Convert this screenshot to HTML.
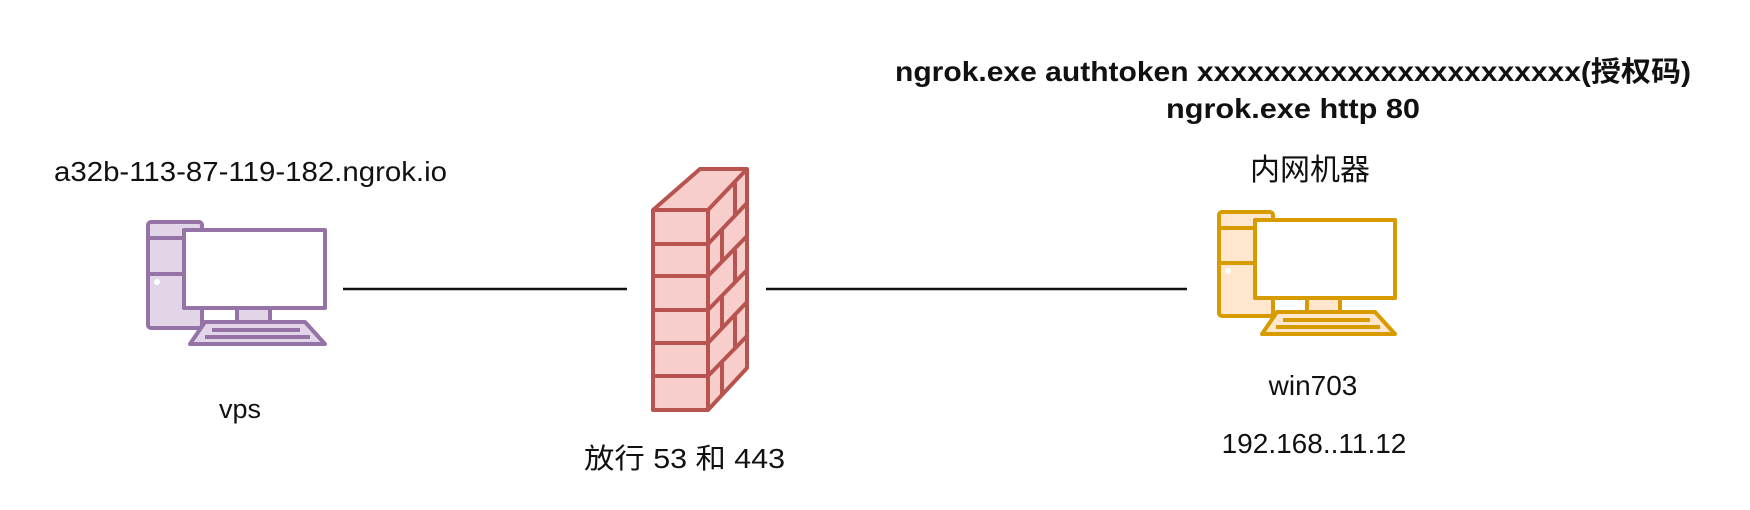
<!DOCTYPE html>
<html><head><meta charset="utf-8"><style>
html,body{margin:0;padding:0;background:#fff;width:1750px;height:510px;overflow:hidden}
svg{display:block}
text{font-family:"Liberation Sans","Noto Sans CJK SC",sans-serif;fill:#111}
</style></head><body>
<svg width="1750" height="510" viewBox="0 0 1750 510" xmlns="http://www.w3.org/2000/svg">
<rect width="1750" height="510" fill="#fff"/>
<!-- connectors -->
<line x1="343" y1="289" x2="627" y2="289" stroke="#111" stroke-width="2.4"/>
<line x1="766" y1="289" x2="1187" y2="289" stroke="#111" stroke-width="2.4"/>

<!-- left computer (purple) -->
<g stroke="#9673a6" stroke-width="4" stroke-linejoin="round" fill="#e1d5e7">
  <rect x="148" y="222" width="54" height="106" rx="3"/>
  <line x1="148" y1="238" x2="202" y2="238"/>
  <line x1="148" y1="274" x2="202" y2="274"/>
  <rect x="237" y="307" width="33" height="15"/>
  <polygon points="205,322 305,322 325,344 190,344"/>
  <line x1="212" y1="330" x2="300" y2="330"/>
  <line x1="205" y1="337" x2="310" y2="337"/>
  <rect x="184" y="230" width="141" height="78" fill="#fff"/>
</g>
<circle cx="157" cy="282" r="3" fill="#fff"/>

<!-- right computer (orange) -->
<g stroke="#d79b00" stroke-width="4" stroke-linejoin="round" fill="#ffe6cc">
  <rect x="1219" y="212" width="54" height="104" rx="3"/>
  <line x1="1219" y1="228" x2="1273" y2="228"/>
  <line x1="1219" y1="263" x2="1273" y2="263"/>
  <rect x="1307" y="298" width="33" height="14"/>
  <polygon points="1277,312 1375,312 1395,334 1262,334"/>
  <line x1="1283" y1="320" x2="1370" y2="320"/>
  <line x1="1276" y1="327" x2="1380" y2="327"/>
  <rect x="1255" y="220" width="140" height="78" fill="#fff"/>
</g>
<circle cx="1228" cy="271" r="3" fill="#fff"/>

<!-- firewall -->
<g stroke="#b85450" stroke-width="4" stroke-linejoin="round" fill="#f8cecc">
  <polygon points="653,210 700,169 747,169 747,368 708,410 653,410"/>
  <polyline points="653,210 708,210 747,169" fill="none"/>
  <line x1="708" y1="210" x2="708" y2="410"/>
  <line x1="653" y1="244" x2="708" y2="244"/>
  <line x1="653" y1="276" x2="708" y2="276"/>
  <line x1="653" y1="310" x2="708" y2="310"/>
  <line x1="653" y1="343" x2="708" y2="343"/>
  <line x1="653" y1="376" x2="708" y2="376"/>
  <line x1="708" y1="244" x2="747" y2="203"/>
  <line x1="708" y1="276" x2="747" y2="236"/>
  <line x1="708" y1="310" x2="747" y2="270"/>
  <line x1="708" y1="343" x2="747" y2="302"/>
  <line x1="708" y1="376" x2="747" y2="336"/>
  <line x1="735" y1="183" x2="735" y2="216"/>
  <line x1="722" y1="230" x2="722" y2="262"/>
  <line x1="735" y1="250" x2="735" y2="282"/>
  <line x1="722" y1="296" x2="722" y2="328"/>
  <line x1="735" y1="316" x2="735" y2="348"/>
  <line x1="722" y1="362" x2="722" y2="394"/>
</g>

<!-- labels -->
<text x="54" y="181" font-size="28" textLength="393" lengthAdjust="spacingAndGlyphs">a32b-113-87-119-182.ngrok.io</text>
<text x="240" y="418" font-size="27" text-anchor="middle">vps</text>
<text x="584" y="468" font-size="28" textLength="201" lengthAdjust="spacingAndGlyphs">放行 53 和 443</text>
<text x="895" y="81" font-size="28" font-weight="bold" textLength="796" lengthAdjust="spacingAndGlyphs">ngrok.exe authtoken xxxxxxxxxxxxxxxxxxxxxxx(授权码)</text>
<text x="1166" y="118" font-size="28" font-weight="bold" textLength="254" lengthAdjust="spacingAndGlyphs">ngrok.exe http 80</text>
<text x="1310" y="180" font-size="30" text-anchor="middle">内网机器</text>
<text x="1313" y="395" font-size="28" text-anchor="middle">win703</text>
<text x="1314" y="453" font-size="28" text-anchor="middle">192.168..11.12</text>
</svg>
</body></html>
